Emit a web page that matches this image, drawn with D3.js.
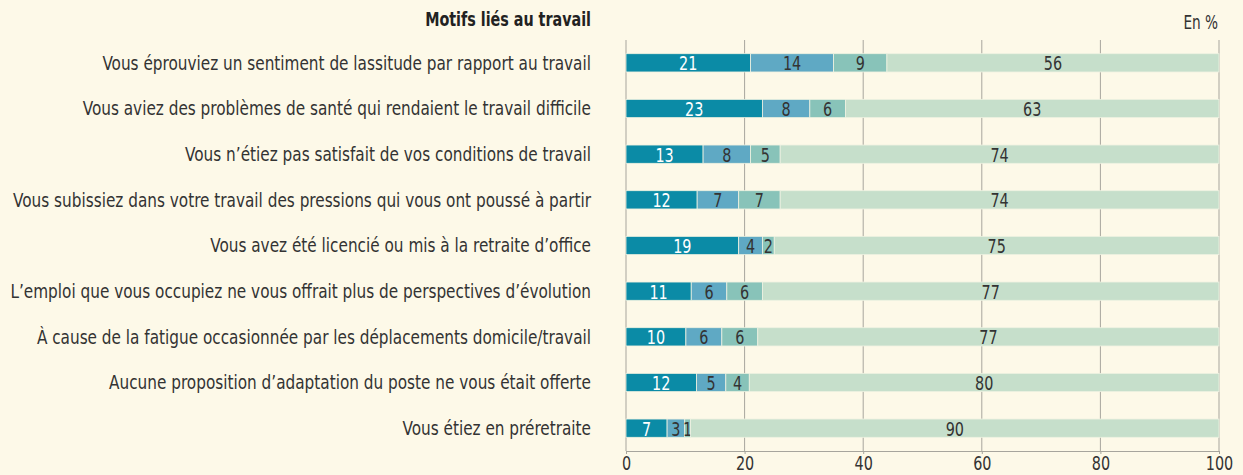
<!DOCTYPE html>
<html>
<head>
<meta charset="utf-8">
<script src="https://cdn.jsdelivr.net/npm/d3@7"></script>
<style>
  body { margin: 0; background: #fdf9e8; }
  svg { display: block; font-family: "DejaVu Sans Condensed", "Liberation Sans Narrow", sans-serif; }
</style>
</head>
<body>
<svg id="chart"></svg>
<script>
// categories (top to bottom)
var motifs = [
    "Vous éprouviez un sentiment de lassitude par rapport au travail",
    "Vous aviez des problèmes de santé qui rendaient le travail difficile",
    "Vous n’étiez pas satisfait de vos conditions de travail",
    "Vous subissiez dans votre travail des pressions qui vous ont poussé à partir",
    "Vous avez été licencié ou mis à la retraite d’office",
    "L’emploi que vous occupiez ne vous offrait plus de perspectives d’évolution",
    "À cause de la fatigue occasionnée par les déplacements domicile/travail",
    "Aucune proposition d’adaptation du poste ne vous était offerte",
    "Vous étiez en préretraite"
];
// four series, one value per category
var serie1 = [21, 23, 13, 12, 19, 11, 10, 12, 7];
var serie2 = [14, 8, 8, 7, 4, 6, 6, 5, 3];
var serie3 = [9, 6, 5, 7, 2, 6, 6, 4, 1];
var serie4 = [56, 63, 74, 74, 75, 77, 77, 80, 90];
var xTicks = [0, 20, 40, 60, 80, 100];

var width = 1243, height = 475;
var plotLeft = 626, plotRight = 1219, plotTop = 40, plotBottom = 451;
var labelRight = 591;

var colors = ["#0b8ba6", "#5fa9c4", "#88c3b9", "#c6dfcb"];
var textColors = ["#ffffff", "#333333", "#333333", "#333333"];

var svg = d3.select("#chart")
    .attr("width", width)
    .attr("height", height);

var rows = motifs.map(function(m, i) {
    return {motif: m, s0: serie1[i], s1: serie2[i], s2: serie3[i], s3: serie4[i]};
});
var keys = ["s0", "s1", "s2", "s3"];

// rows do not always add to exactly 100 after rounding: stack to full width
var stacked = d3.stack().keys(keys).offset(d3.stackOffsetExpand)(rows);

var xScale = d3.scaleLinear().domain([0, 100]).range([plotLeft, plotRight]);
var yScale = d3.scaleBand()
    .domain(motifs)
    .range([plotTop, plotBottom])
    .paddingInner(0.6)
    .paddingOuter(0.3);

// the original uses a narrow font: squeeze the text horizontally
var squeeze = 0.8;

// grid lines
svg.append("g")
    .selectAll("line")
    .data(xTicks)
    .enter().append("line")
    .attr("x1", function(d) { return xScale(d); })
    .attr("x2", function(d) { return xScale(d); })
    .attr("y1", plotTop)
    .attr("y2", plotBottom)
    .attr("stroke", "#a7a59d")
    .attr("stroke-width", 1);

// x axis
var xAxis = d3.axisBottom(xScale)
    .tickValues(xTicks)
    .tickSize(3)
    .tickPadding(2);

var gx = svg.append("g")
    .attr("transform", "translate(0," + plotBottom + ")")
    .call(xAxis);
gx.select(".domain").attr("stroke", "#a7a59d");
gx.selectAll(".tick line").attr("stroke", "#a7a59d");
gx.selectAll("text")
    .attr("fill", "#333")
    .attr("transform", "scale(" + squeeze + ",1)")
    .style("font-size", "20px")
    .style("font-family", "\"DejaVu Sans Condensed\", sans-serif");

// bars
var layers = svg.append("g")
    .selectAll("g")
    .data(stacked)
    .enter().append("g")
    .attr("fill", function(d, i) { return colors[i]; });

layers.selectAll("rect")
    .data(function(d) { return d; })
    .enter().append("rect")
    .attr("x", function(d) { return xScale(d[0] * 100); })
    .attr("y", function(d) { return yScale(d.data.motif); })
    .attr("width", function(d) { return xScale(d[1] * 100) - xScale(d[0] * 100); })
    .attr("height", yScale.bandwidth())
    .attr("stroke", "#eef2e2")
    .attr("stroke-width", 0.8);

// value labels
layers.each(function(layer, li) {
    d3.select(this).selectAll("text")
        .data(layer)
        .enter().append("text")
        .attr("transform", function(d) {
            var x = xScale((d[0] + d[1]) / 2 * 100);
            var y = yScale(d.data.motif) + yScale.bandwidth() / 2;
            return "translate(" + x + "," + y + ") scale(" + squeeze + ",1)";
        })
        .attr("dy", "0.38em")
        .attr("text-anchor", "middle")
        .attr("fill", textColors[li])
        .style("font-size", "20px")
        .text(function(d) { return d.data[layer.key]; });
});

// category labels, fitted so the longest one spans the same width as the original
var labels = svg.append("g")
    .selectAll("text")
    .data(motifs)
    .enter().append("text")
    .attr("dy", "0.36em")
    .attr("text-anchor", "end")
    .attr("fill", "#333")
    .style("font-size", "19px")
    .text(function(d) { return d; });

var longest = d3.max(labels.nodes(), function(n) { return n.getComputedTextLength(); });
var kLabel = 581 / longest;
labels.attr("transform", function(d) {
    return "translate(" + labelRight + "," + (yScale(d) + yScale.bandwidth() / 2) + ") scale(" + kLabel + ",1)";
});

// title and unit
var title = svg.append("text")
    .attr("text-anchor", "end")
    .attr("fill", "#222")
    .style("font-size", "19px")
    .style("font-weight", "bold")
    .text("Motifs liés au travail");
var kTitle = 166 / title.node().getComputedTextLength();
title.attr("transform", "translate(" + labelRight + ",26) scale(" + kTitle + ",1)");

svg.append("text")
    .attr("transform", "translate(1218,29) scale(" + squeeze + ",1)")
    .attr("text-anchor", "end")
    .attr("fill", "#333")
    .style("font-size", "19px")
    .text("En %");
</script>
</body>
</html>
